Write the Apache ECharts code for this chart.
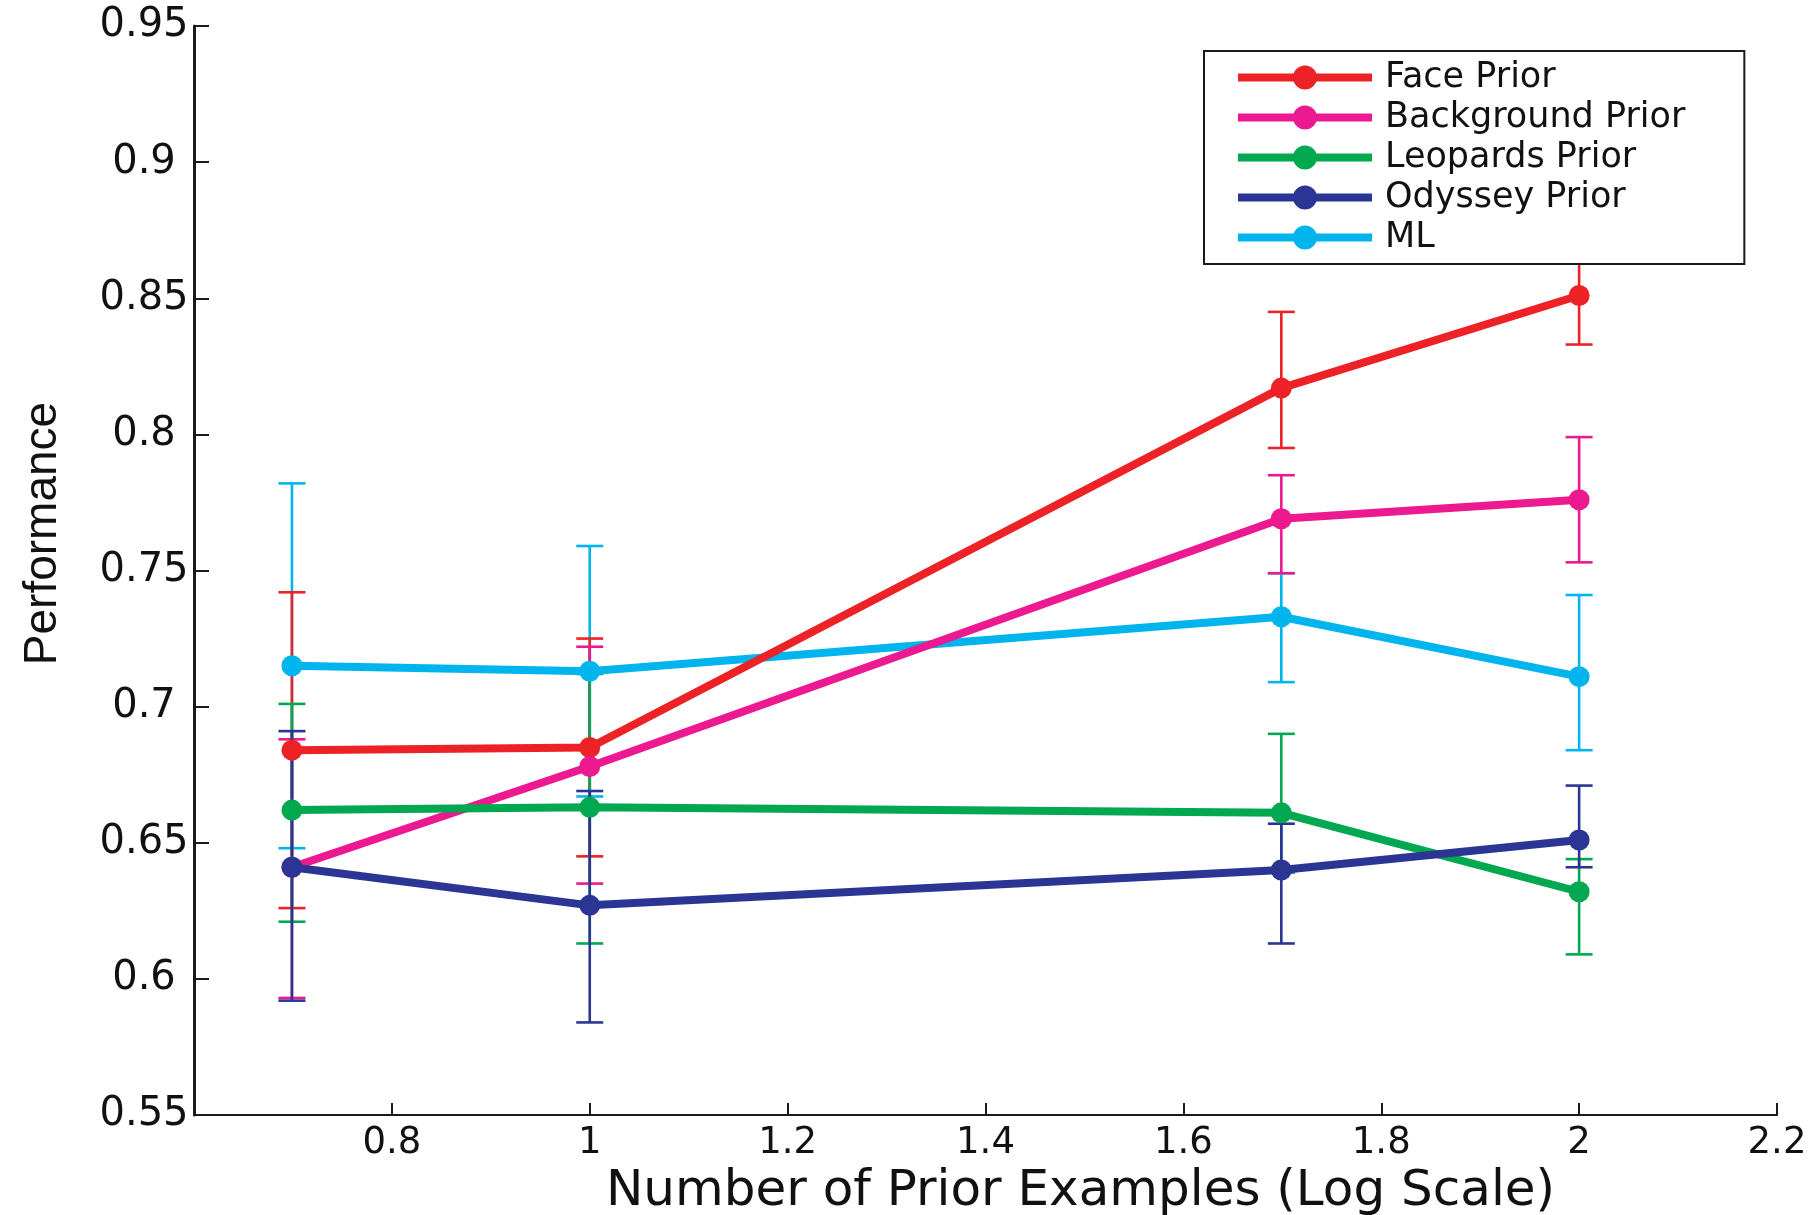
<!DOCTYPE html>
<html>
<head>
<meta charset="utf-8">
<script src="https://cdn.jsdelivr.net/npm/echarts@6/dist/echarts.min.js"></script>
<style>
html,body{margin:0;padding:0;background:#fff;}
#chart{width:1808px;height:1215px;}
</style>
</head>
<body>
<div id="chart"></div>
<script>
// x positions: log10 of number of prior examples (5, 10, 50, 100)
const xValues = [0.699, 1, 1.699, 2];

const faceMean = [0.684, 0.685, 0.817, 0.851];
const faceLow  = [0.626, 0.645, 0.795, 0.833];
const faceHigh = [0.742, 0.725, 0.845, 0.869];

const backgroundMean = [0.641, 0.678, 0.769, 0.776];
const backgroundLow  = [0.593, 0.635, 0.749, 0.753];
const backgroundHigh = [0.688, 0.722, 0.785, 0.799];

const leopardsMean = [0.662, 0.663, 0.661, 0.632];
const leopardsLow  = [0.621, 0.613, 0.639, 0.609];
const leopardsHigh = [0.701, 0.712, 0.690, 0.644];

const odysseyMean = [0.641, 0.627, 0.640, 0.651];
const odysseyLow  = [0.592, 0.584, 0.613, 0.641];
const odysseyHigh = [0.691, 0.669, 0.657, 0.671];

const mlMean = [0.715, 0.713, 0.733, 0.711];
const mlLow  = [0.648, 0.667, 0.709, 0.684];
const mlHigh = [0.782, 0.759, 0.749, 0.741];

const xTickLabels = ['', '0.8', '1', '1.2', '1.4', '1.6', '1.8', '2', '2.2'];
const yTickLabels = ['0.55', '0.6', '0.65', '0.7', '0.75', '0.8', '0.85', '0.9', '0.95'];

const legendOrder = ['Face Prior', 'Background Prior', 'Leopards Prior', 'Odyssey Prior', 'ML'];

// drawing order (bottom to top) follows the original plotting
const seriesDefs = [
  {name: 'ML', color: '#00b4ee', mean: mlMean, low: mlLow, high: mlHigh},
  {name: 'Face Prior', color: '#ec2227', mean: faceMean, low: faceLow, high: faceHigh},
  {name: 'Background Prior', color: '#ec1990', mean: backgroundMean, low: backgroundLow, high: backgroundHigh},
  {name: 'Leopards Prior', color: '#00a84f', mean: leopardsMean, low: leopardsLow, high: leopardsHigh},
  {name: 'Odyssey Prior', color: '#2b3593', mean: odysseyMean, low: odysseyLow, high: odysseyHigh}
];

function makeErrRender(color) {
  return function (params, api) {
    const x = api.value(0), lo = api.value(1), hi = api.value(2);
    const pt = api.coord([x, hi]);
    const pb = api.coord([x, lo]);
    const hw = 13.5;
    const st = {stroke: color, lineWidth: 2.6};
    return {
      type: 'group',
      children: [
        {type: 'line', shape: {x1: pt[0], y1: pt[1], x2: pb[0], y2: pb[1]}, style: st},
        {type: 'line', shape: {x1: pt[0] - hw, y1: pt[1], x2: pt[0] + hw, y2: pt[1]}, style: st},
        {type: 'line', shape: {x1: pb[0] - hw, y1: pb[1], x2: pb[0] + hw, y2: pb[1]}, style: st}
      ]
    };
  };
}

const series = [];
seriesDefs.forEach(function (d) {
  series.push({
    name: d.name,
    type: 'line',
    data: xValues.map(function (x, i) { return [x, d.mean[i]]; }),
    symbol: 'circle',
    symbolSize: 21,
    showSymbol: true,
    lineStyle: {color: d.color, width: 8},
    itemStyle: {color: d.color},
    emphasis: {disabled: true}
  });
  series.push({
    name: d.name + ' error',
    type: 'custom',
    renderItem: makeErrRender(d.color),
    data: xValues.map(function (x, i) { return [x, d.low[i], d.high[i]]; }),
    encode: {x: 0, y: [1, 2]},
    silent: true
  });
});

const chart = echarts.init(document.getElementById('chart'), null, {renderer: 'canvas'});
chart.setOption({
  animation: false,
  backgroundColor: '#ffffff',
  grid: {left: 194, right: 31, top: 26, bottom: 100, containLabel: false, outerBoundsMode: 'none'},
  legend: {
    data: legendOrder,
    orient: 'vertical',
    left: 1204,
    top: 51,
    itemWidth: 134,
    itemHeight: 30,
    itemGap: 5,
    padding: [9, 59, 9, 30],
    backgroundColor: '#ffffff',
    borderColor: '#1a1a1a',
    borderWidth: 2,
    borderRadius: 0,
    lineStyle: {width: 8},
    textStyle: {fontFamily: 'DejaVu Sans', fontSize: 35, lineHeight: 30, color: '#111', padding: [0, 0, 0, 8]},
    selectedMode: false
  },
  xAxis: {
    type: 'value',
    min: 0.6,
    max: 2.2,
    interval: 0.2,
    name: 'Number of Prior Examples (Log Scale)',
    nameLocation: 'middle',
    nameGap: 38,
    nameTextStyle: {fontFamily: 'DejaVu Sans', fontSize: 50, color: '#111', padding: [0, 0, 0, 190]},
    axisLine: {show: true, onZero: false, lineStyle: {color: '#1a1a1a', width: 2}},
    axisTick: {show: true, inside: true, length: 12, lineStyle: {color: '#1a1a1a', width: 2}},
    axisLabel: {
      fontFamily: 'DejaVu Sans', fontSize: 37, color: '#111', margin: 10,
      formatter: function (v) { return xTickLabels[Math.round((v - 0.6) / 0.2)] || ''; }
    },
    splitLine: {show: false}
  },
  yAxis: {
    type: 'value',
    min: 0.55,
    max: 0.95,
    interval: 0.05,
    name: 'Performance',
    nameLocation: 'middle',
    nameGap: 128,
    nameRotate: 90,
    nameTextStyle: {fontFamily: 'Liberation Sans', fontSize: 46, color: '#111', padding: [0, 0, 0, 74]},
    axisLine: {show: true, onZero: false, lineStyle: {color: '#1a1a1a', width: 3}},
    axisTick: {show: true, inside: true, length: 15, lineStyle: {color: '#1a1a1a', width: 2}},
    axisLabel: {
      fontFamily: 'DejaVu Sans', fontSize: 40, color: '#111', margin: 50, align: 'center',
      formatter: function (v) { return yTickLabels[Math.round((v - 0.55) / 0.05)] || ''; }
    },
    splitLine: {show: false}
  },
  series: series
});
</script>
</body>
</html>
